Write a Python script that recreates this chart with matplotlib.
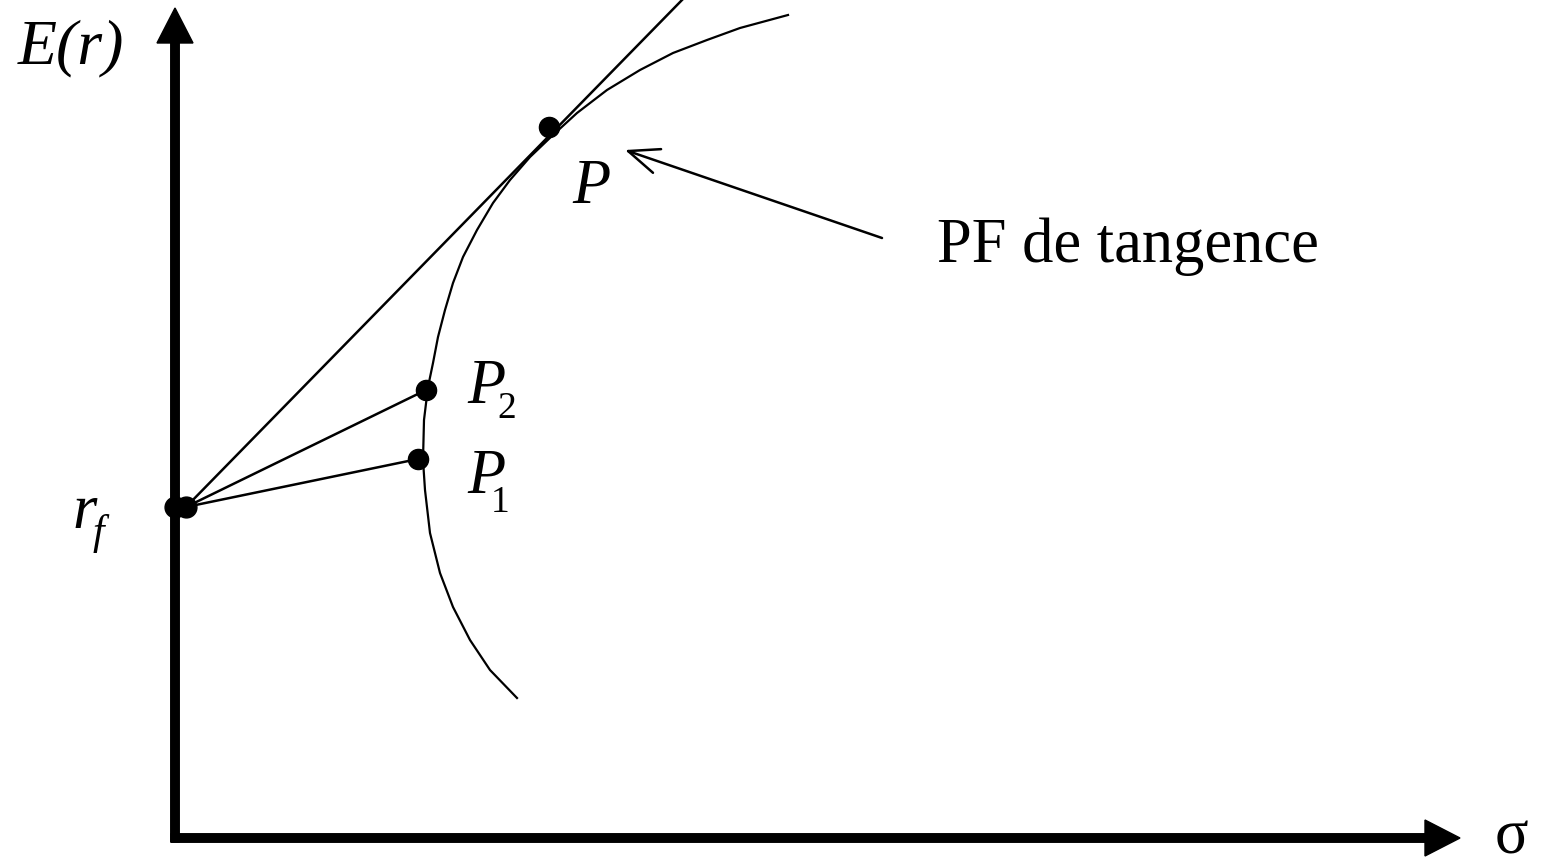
import numpy as np
import matplotlib
matplotlib.use("Agg")
from matplotlib import pyplot as plt

# chart units: 1 unit = 100 px, origin where the two axes meet
rf = 3.31                      # risk-free rate on the E(r) axis
rf_dots_x = [0.0, 0.11]        # the two dots drawn at r_f
P = (3.74, 7.11)               # tangency portfolio
P2 = (2.51, 4.48)
P1 = (2.43, 3.79)
cml_end = (5.07, 8.38)         # where the tangent line leaves the picture

# efficient frontier (sigma, E(r)), bottom to top
front_sigma = [3.42, 3.15, 2.95, 2.78, 2.65, 2.55, 2.50, 2.48, 2.49, 2.53,
               2.58, 2.63, 2.70, 2.78, 2.88, 3.02, 3.18, 3.35, 3.55, 3.78,
               4.02, 4.32, 4.65, 4.98, 5.32, 5.65, 6.13]
front_er = [1.40, 1.68, 1.98, 2.31, 2.65, 3.05, 3.48, 3.78, 4.18, 4.51,
            4.75, 5.01, 5.28, 5.55, 5.81, 6.08, 6.35, 6.58, 6.81, 7.03,
            7.25, 7.48, 7.68, 7.85, 7.98, 8.10, 8.23]

serif = "Liberation Serif"

fig = plt.figure(figsize=(15.41, 8.59), dpi=100)
ax = fig.add_axes([0, 0, 1, 1])
ax.set_xlim(-1.75, 13.66)
ax.set_ylim(-0.21, 8.38)
ax.axis("off")

# axes with arrow heads
ax.arrow(-0.04, 0, 12.89, 0, width=0.085, head_width=0.36, head_length=0.35,
         length_includes_head=True, color="black", zorder=3)
ax.arrow(0, -0.04, 0, 8.34, width=0.085, head_width=0.36, head_length=0.35,
         length_includes_head=True, color="black", zorder=3)

# frontier
ax.plot(front_sigma, front_er, color="black", lw=1.6, solid_joinstyle="round")

# lines from r_f
ax.plot([rf_dots_x[1], cml_end[0]], [rf, cml_end[1]], color="black", lw=1.8)
ax.plot([rf_dots_x[1], P2[0]], [rf, P2[1]], color="black", lw=1.8)
ax.plot([rf_dots_x[1], P1[0]], [rf, P1[1]], color="black", lw=1.8)

# dots
ax.plot(rf_dots_x, [rf, rf], "o", color="black", ms=15, zorder=4)
ax.plot([P[0], P2[0], P1[0]], [P[1], P2[1], P1[1]], "o", color="black", ms=14.5, zorder=4)

# pointer to P
ax.annotate("", xy=(4.50, 6.88), xytext=(7.07, 6.00),
            arrowprops=dict(arrowstyle="->,head_length=1.1,head_width=0.45",
                            color="black", lw=1.8, shrinkA=0, shrinkB=0,
                            mutation_scale=20))

# labels
ax.text(-1.57, 7.75, "E(r)", family=serif, style="italic", fontsize=46, va="baseline")
ax.text(13.20, -0.15, "σ", family=serif, fontsize=45, va="baseline")
ax.text(-1.03, 3.10, "r", family=serif, style="italic", fontsize=45, va="baseline")
ax.text(-0.82, 2.94, "f", family=serif, style="italic", fontsize=30, va="baseline")
ax.text(3.97, 6.35, "P", family=serif, style="italic", fontsize=45, va="baseline")
ax.text(2.92, 4.35, "P", family=serif, style="italic", fontsize=45, va="baseline")
ax.text(3.22, 4.20, "2", family=serif, fontsize=27, va="baseline")
ax.text(2.92, 3.45, "P", family=serif, style="italic", fontsize=45, va="baseline")
ax.text(3.16, 3.26, "1", family=serif, fontsize=27, va="baseline")
ax.text(7.62, 5.76, "PF de tangence", family=serif, fontsize=45, va="baseline")

fig.savefig("out.png", dpi=100)
